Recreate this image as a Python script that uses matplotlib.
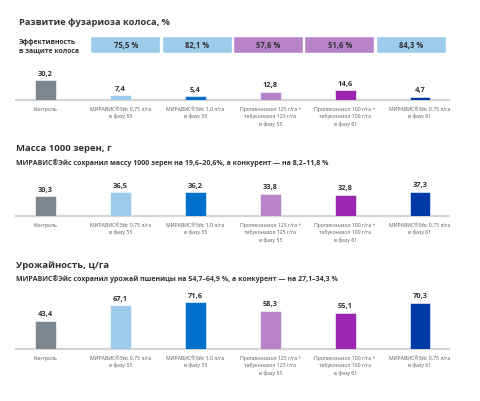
import matplotlib
matplotlib.use("Agg")
import matplotlib.pyplot as plt

plt.rcParams['font.family'] = ['Open Sans', 'DejaVu Sans']

# ---- данные ----
categories = [
    "Контроль",
    "МИРАВИС®Эйс 0,75 л/га\nв фазу 55",
    "МИРАВИС®Эйс 1,0 л/га\nв фазу 55",
    "Пропиконазол 125 г/га +\nтебуконазол 125 г/га\nв фазу 55",
    "Пропиконазол 100 г/га +\nтебуконазол 100 г/га\nв фазу 61",
    "МИРАВИС®Эйс 0,75 л/га\nв фазу 61",
]
bar_colors = ["#7b868e", "#9ccbec", "#0070cc", "#b784c9", "#9b27b1", "#003aa5"]

fusarium = [30.2, 7.4, 5.4, 12.8, 14.6, 4.7]
efficiency = [75.5, 82.1, 57.6, 51.6, 84.3]
eff_colors = ["#9ccbec", "#9ccbec", "#b784c9", "#b784c9", "#9ccbec"]
grain_mass = [30.3, 36.5, 36.2, 33.8, 32.8, 37.3]
yield_ = [43.4, 67.1, 71.6, 58.3, 55.1, 70.3]

W, H = 480, 402
SCALE = 0.655  # пикселей на единицу значения
TXT = "#333333"

fig = plt.figure(figsize=(W / 100, H / 100), dpi=100)
fig.patch.set_facecolor("white")


def fx(px):
    return px / W


def fy(py):
    return 1 - py / H


def fmt(v):
    return f"{v:.1f}".replace(".", ",")


def panel(values, baseline, height):
    ax = fig.add_axes([fx(16), fy(baseline), fx(433), height / H])
    x = range(len(values))
    ax.bar(x, values, width=0.28, color=bar_colors, edgecolor="white", linewidth=0.4, zorder=2)
    ax.set_xlim(-29.5 / 74.9, 5 + 29 / 74.9)
    ax.set_ylim(0, height / SCALE)
    ax.axhline(0, color="#d4d4d4", lw=1.6, zorder=1, clip_on=False)
    for xi, v in zip(x, values):
        ax.annotate(fmt(v), (xi, v), xytext=(0, 2.5), textcoords="offset points",
                    ha="center", va="bottom", fontsize=5.4, fontweight="bold", color=TXT)
    ax.set_xticks(list(x))
    ax.set_xticklabels(categories, fontsize=3.7, color="#5a5a5a", linespacing=1.5, va="top")
    ax.tick_params(axis="x", length=0, pad=4)
    ax.set_yticks([])
    for s in ax.spines.values():
        s.set_visible(False)
    ax.patch.set_alpha(0)
    return ax


# ---- панель 1: развитие фузариоза ----
fig.text(fx(19), fy(22.5), "Развитие фузариоза колоса, %", fontsize=6.7,
         fontweight="bold", color=TXT, va="center")
fig.text(fx(19), fy(46.5), "Эффективность\nв защите колоса", fontsize=4.95,
         fontweight="bold", color=TXT, va="center", linespacing=1.3)

eax = fig.add_axes([fx(90), fy(54), fx(357), 16 / H])
ex = range(len(efficiency))
eax.bar(ex, [1] * len(efficiency), width=69 / 71.4, color=eff_colors, edgecolor="white", lw=0.3)
for xi, v in zip(ex, efficiency):
    eax.text(xi, 0.5, fmt(v) + " %", ha="center", va="center", fontsize=5.5,
             fontweight="bold", color=TXT)
eax.set_xlim(-0.5, len(efficiency) - 0.5)
eax.set_ylim(0, 1)
eax.axis("off")

panel(fusarium, 101, 34)

# ---- панель 2: масса 1000 зерен ----
fig.text(fx(16), fy(149), "Масса 1000 зерен, г", fontsize=6.8,
         fontweight="bold", color=TXT, va="center")
fig.text(fx(16), fy(163),
         "МИРАВИС®Эйс сохранил массу 1000 зерен на 19,6–20,6%, а конкурент — на 8,2–11,8 %",
         fontsize=5.0, fontweight="bold", color=TXT, va="center")
panel(grain_mass, 217, 38)

# ---- панель 3: урожайность ----
fig.text(fx(16), fy(265), "Урожайность, ц/га", fontsize=6.8,
         fontweight="bold", color=TXT, va="center")
fig.text(fx(16), fy(279),
         "МИРАВИС®Эйс сохранил урожай пшеницы на 54,7–64,9 %, а конкурент — на 27,1–34,3 %",
         fontsize=5.0, fontweight="bold", color=TXT, va="center")
panel(yield_, 350, 60)

fig.savefig("out.png", dpi=100, facecolor="white")
